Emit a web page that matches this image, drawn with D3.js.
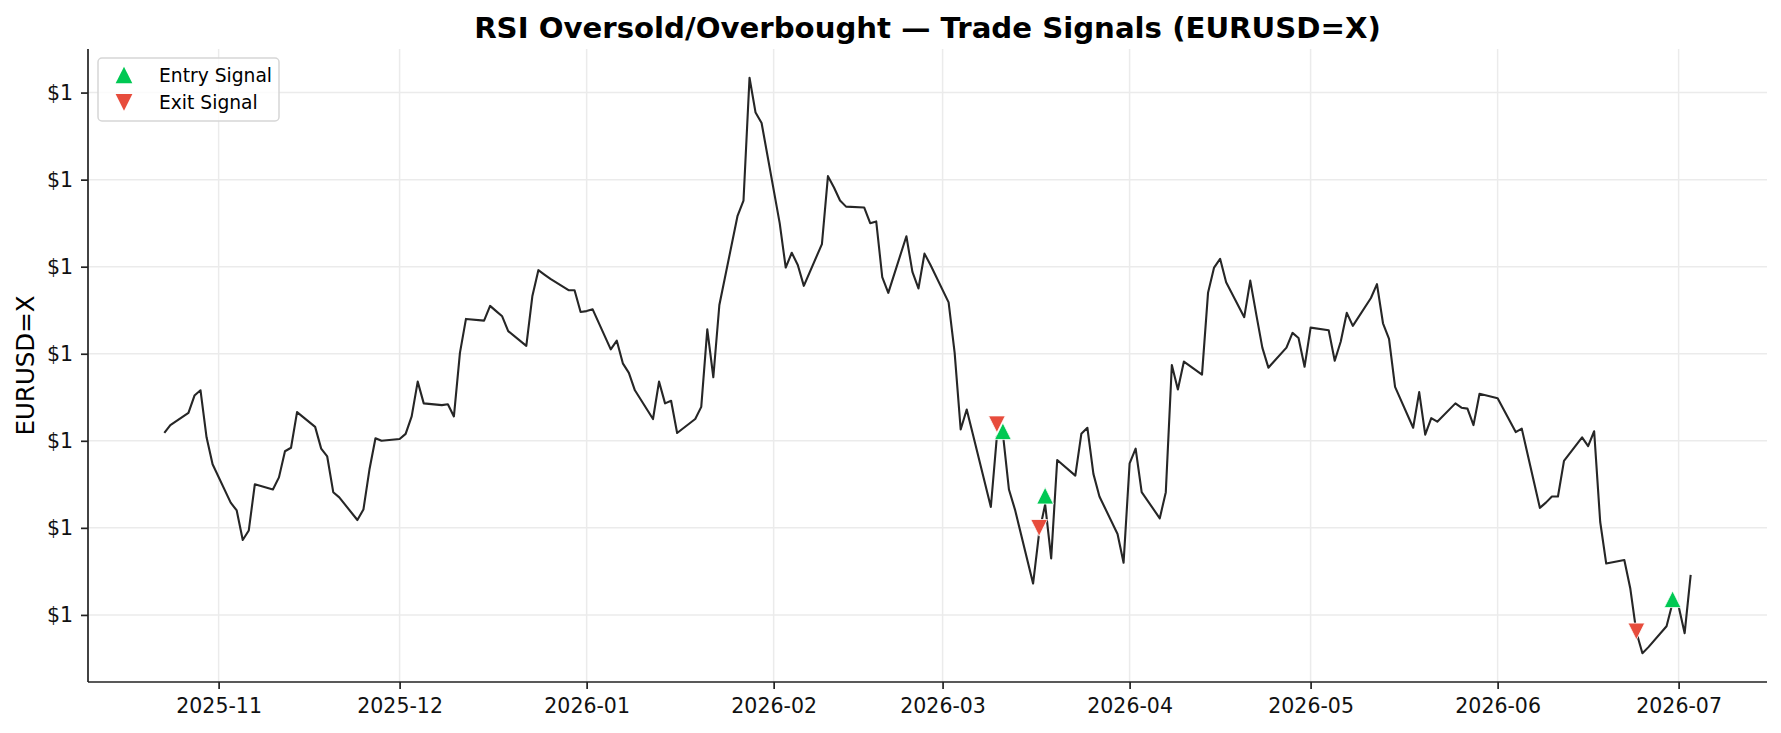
<!DOCTYPE html>
<html>
<head>
<meta charset="utf-8">
<script src="https://cdn.jsdelivr.net/npm/d3@7"></script>
<style>
  body { margin: 0; background: #fff; }
  svg { display: block; font-family: "DejaVu Sans", sans-serif; }
</style>
</head>
<body>
<div id="chart"></div>
<script>
// trading days (EURUSD=X daily closes)
const dates = [
  "2025-10-23","2025-10-24","2025-10-27","2025-10-28","2025-10-29","2025-10-30","2025-10-31",
  "2025-11-03","2025-11-04","2025-11-05","2025-11-06","2025-11-07","2025-11-10","2025-11-11","2025-11-12","2025-11-13","2025-11-14",
  "2025-11-17","2025-11-18","2025-11-19","2025-11-20","2025-11-21","2025-11-24","2025-11-25","2025-11-26","2025-11-27","2025-11-28",
  "2025-12-01","2025-12-02","2025-12-03","2025-12-04","2025-12-05","2025-12-08","2025-12-09","2025-12-10","2025-12-11","2025-12-12",
  "2025-12-15","2025-12-16","2025-12-17","2025-12-18","2025-12-19","2025-12-22","2025-12-23","2025-12-24","2025-12-25","2025-12-26",
  "2025-12-29","2025-12-30","2025-12-31",
  "2026-01-01","2026-01-02","2026-01-05","2026-01-06","2026-01-07","2026-01-08","2026-01-09","2026-01-12","2026-01-13","2026-01-14",
  "2026-01-15","2026-01-16","2026-01-19","2026-01-20","2026-01-21","2026-01-22","2026-01-23","2026-01-26","2026-01-27","2026-01-28",
  "2026-01-29","2026-01-30",
  "2026-02-02","2026-02-03","2026-02-04","2026-02-05","2026-02-06","2026-02-09","2026-02-10","2026-02-11","2026-02-12","2026-02-13",
  "2026-02-16","2026-02-17","2026-02-18","2026-02-19","2026-02-20","2026-02-23","2026-02-24","2026-02-25","2026-02-26","2026-02-27",
  "2026-03-02","2026-03-03","2026-03-04","2026-03-05","2026-03-06","2026-03-09","2026-03-10","2026-03-11","2026-03-12","2026-03-13",
  "2026-03-16","2026-03-17","2026-03-18","2026-03-19","2026-03-20","2026-03-23","2026-03-24","2026-03-25","2026-03-26","2026-03-27",
  "2026-03-30","2026-03-31",
  "2026-04-01","2026-04-02","2026-04-03","2026-04-06","2026-04-07","2026-04-08","2026-04-09","2026-04-10","2026-04-13","2026-04-14",
  "2026-04-15","2026-04-16","2026-04-17","2026-04-20","2026-04-21","2026-04-22","2026-04-23","2026-04-24","2026-04-27","2026-04-28",
  "2026-04-29","2026-04-30",
  "2026-05-01","2026-05-04","2026-05-05","2026-05-06","2026-05-07","2026-05-08","2026-05-11","2026-05-12","2026-05-13","2026-05-14",
  "2026-05-15","2026-05-18","2026-05-19","2026-05-20","2026-05-21","2026-05-22","2026-05-25","2026-05-26","2026-05-27","2026-05-28",
  "2026-05-29",
  "2026-06-01","2026-06-02","2026-06-03","2026-06-04","2026-06-05","2026-06-08","2026-06-09","2026-06-10","2026-06-11","2026-06-12",
  "2026-06-15","2026-06-16","2026-06-17","2026-06-18","2026-06-19","2026-06-22","2026-06-23","2026-06-24","2026-06-25","2026-06-26",
  "2026-06-29","2026-06-30",
  "2026-07-01","2026-07-02","2026-07-03"
];

const closes = [
  1.1609, 1.1618, 1.1632, 1.1652, 1.1658, 1.1604, 1.1573,
  1.1529, 1.1520, 1.1486, 1.1497, 1.1550, 1.1544, 1.1558, 1.1588, 1.1592, 1.1633,
  1.1616, 1.1591, 1.1582, 1.1541, 1.1535, 1.1509, 1.1521, 1.1567, 1.1603, 1.1600,
  1.1602, 1.1608, 1.1628, 1.1668, 1.1643, 1.1641, 1.1642, 1.1628, 1.1701, 1.1740,
  1.1738, 1.1755, 1.1749, 1.1743, 1.1726, 1.1709, 1.1766, 1.1796, 1.1791, 1.1786,
  1.1773, 1.1773, 1.1748,
  1.1749, 1.1751, 1.1705, 1.1715, 1.1689, 1.1678, 1.1658, 1.1625, 1.1668, 1.1643,
  1.1646, 1.1609, 1.1625, 1.1639, 1.1728, 1.1673, 1.1756, 1.1858, 1.1876, 1.2017,
  1.1977, 1.1965,
  1.1850, 1.1799, 1.1816, 1.1802, 1.1778, 1.1826, 1.1904, 1.1891, 1.1876, 1.1869,
  1.1868, 1.1850, 1.1852, 1.1788, 1.1770, 1.1835, 1.1794, 1.1775, 1.1815, 1.1802,
  1.1759, 1.1701, 1.1613, 1.1636, 1.1608, 1.1524, 1.1605, 1.1608, 1.1544, 1.1521,
  1.1436, 1.1494, 1.1527, 1.1465, 1.1578, 1.1560, 1.1608, 1.1615, 1.1562, 1.1536,
  1.1493, 1.1460,
  1.1574, 1.1591, 1.1541, 1.1511, 1.1541, 1.1687, 1.1659, 1.1691, 1.1676, 1.1770,
  1.1799, 1.1809, 1.1782, 1.1742, 1.1784, 1.1745, 1.1707, 1.1684, 1.1707, 1.1724,
  1.1718, 1.1685,
  1.1730, 1.1727, 1.1692, 1.1714, 1.1747, 1.1732, 1.1764, 1.1780, 1.1735, 1.1717,
  1.1662, 1.1615, 1.1656, 1.1607, 1.1626, 1.1622, 1.1643, 1.1638, 1.1637, 1.1618,
  1.1654,
  1.1649, 1.1636, 1.1623, 1.1610, 1.1614, 1.1523, 1.1529, 1.1536, 1.1536, 1.1577,
  1.1604, 1.1594, 1.1611, 1.1507, 1.1459, 1.1463, 1.1430, 1.1380, 1.1356, 1.1363,
  1.1387, 1.1414,
  1.1410, 1.1379, 1.1446
];

// signals
const entryDates = ["2026-03-11", "2026-03-18", "2026-06-30"];
const entryPrices = [1.1611, 1.1537, 1.1418];
const exitDates = ["2026-03-10", "2026-03-17", "2026-06-24"];
const exitPrices = [1.1619, 1.1500, 1.1381];

const yTicks = [1.14, 1.15, 1.16, 1.17, 1.18, 1.19, 1.20];
const xTicks = ["2025-11-01","2025-12-01","2026-01-01","2026-02-01","2026-03-01","2026-04-01","2026-05-01","2026-06-01","2026-07-01"];

const title = "RSI Oversold/Overbought \u2014 Trade Signals (EURUSD=X)";
const ticker = "EURUSD=X";

const parse = d3.utcParse("%Y-%m-%d");
const series = dates.map((d, i) => ({ date: parse(d), value: closes[i] }));
const entries = entryDates.map((d, i) => ({ date: parse(d), value: entryPrices[i] }));
const exits = exitDates.map((d, i) => ({ date: parse(d), value: exitPrices[i] }));

const width = 1781, height = 733;
const margin = { left: 88, right: 14, top: 49, bottom: 51 };

const svg = d3.select("#chart").append("svg")
  .attr("width", width)
  .attr("height", height);

// matplotlib-like 5% padding
function padded(ext) {
  const p = (ext[1] - ext[0]) * 0.05;
  return [ext[0] - p, ext[1] + p];
}
const xExt = d3.extent(series, d => d.date);
const xPad = (xExt[1] - xExt[0]) * 0.05;
const x = d3.scaleUtc()
  .domain([new Date(+xExt[0] - xPad), new Date(+xExt[1] + xPad)])
  .range([margin.left, width - margin.right]);

const y = d3.scaleLinear()
  .domain(padded(d3.extent(series, d => d.value)))
  .range([height - margin.bottom, margin.top]);

// grid
const grid = svg.append("g").attr("stroke", "#ebebeb").attr("stroke-width", 1.5);
grid.selectAll(".gy").data(yTicks).join("line")
  .attr("x1", margin.left).attr("x2", width - margin.right)
  .attr("y1", d => y(d)).attr("y2", d => y(d));
grid.selectAll(".gx").data(xTicks.map(parse)).join("line")
  .attr("x1", d => x(d)).attr("x2", d => x(d))
  .attr("y1", margin.top).attr("y2", height - margin.bottom);

// axes
const xAxis = svg.append("g")
  .attr("transform", `translate(0,${height - margin.bottom})`)
  .call(d3.axisBottom(x).tickValues(xTicks.map(parse)).tickFormat(d3.utcFormat("%Y-%m")).tickSize(7).tickPadding(9));
const yAxis = svg.append("g")
  .attr("transform", `translate(${margin.left},0)`)
  .call(d3.axisLeft(y).tickValues(yTicks).tickFormat(d3.format("$,.0f")).tickSize(7).tickPadding(8));

[xAxis, yAxis].forEach(a => {
  a.select(".domain").attr("stroke", "#222").attr("stroke-width", 1.7);
  a.selectAll(".tick line").attr("stroke", "#222").attr("stroke-width", 1.7);
  a.selectAll(".tick text").attr("fill", "#111").style("font-size", "20.5px").style("font-family", "DejaVu Sans");
});
// left spine runs over full height
yAxis.select(".domain").attr("d", `M0,${margin.top}V${height - margin.bottom}`);
xAxis.select(".domain").attr("d", `M${margin.left},0H${width - margin.right}`);

// price line
svg.append("path")
  .datum(series)
  .attr("fill", "none")
  .attr("stroke", "#262626")
  .attr("stroke-width", 2.1)
  .attr("stroke-linejoin", "round")
  .attr("d", d3.line().x(d => x(d.date)).y(d => y(d.value)));

// markers
const s = 16.7;
const upTri = `M0,${-s / 2}L${s / 2},${s / 2}L${-s / 2},${s / 2}Z`;
const downTri = `M0,${s / 2}L${s / 2},${-s / 2}L${-s / 2},${-s / 2}Z`;
const entryColor = "#00c853", exitColor = "#e74c3c";

svg.append("g").selectAll("path").data(exits).join("path")
  .attr("d", downTri)
  .attr("transform", d => `translate(${x(d.date)},${y(d.value)})`)
  .attr("fill", exitColor).attr("stroke", "#fff").attr("stroke-width", 0.8);
svg.append("g").selectAll("path").data(entries).join("path")
  .attr("d", upTri)
  .attr("transform", d => `translate(${x(d.date)},${y(d.value)})`)
  .attr("fill", entryColor).attr("stroke", "#fff").attr("stroke-width", 0.8);

// title + y label
svg.append("text")
  .attr("x", (margin.left + width - margin.right) / 2)
  .attr("y", 37.5)
  .attr("text-anchor", "middle")
  .style("font-size", "29.2px").style("font-weight", "bold")
  .text(title);

svg.append("text")
  .attr("transform", `translate(34,${(margin.top + height - margin.bottom) / 2}) rotate(-90)`)
  .attr("text-anchor", "middle")
  .style("font-size", "24.5px")
  .text(ticker);

// legend
const legend = svg.append("g").attr("transform", "translate(98,58)");
legend.append("rect")
  .attr("width", 181).attr("height", 63).attr("rx", 4)
  .attr("fill", "#fff").attr("fill-opacity", 0.8)
  .attr("stroke", "#d6d6d6").attr("stroke-width", 1.5);
const items = [
  { label: "Entry Signal", shape: upTri, color: entryColor },
  { label: "Exit Signal", shape: downTri, color: exitColor }
];
const li = legend.selectAll(".item").data(items).join("g")
  .attr("transform", (d, i) => `translate(0,${17 + i * 27.3})`);
li.append("path").attr("d", d => d.shape).attr("transform", "translate(26,0)").attr("fill", d => d.color);
li.append("text")
  .attr("x", 61).attr("y", 0).attr("dy", "0.35em")
  .style("font-size", "18.7px")
  .text(d => d.label);
</script>
</body>
</html>
